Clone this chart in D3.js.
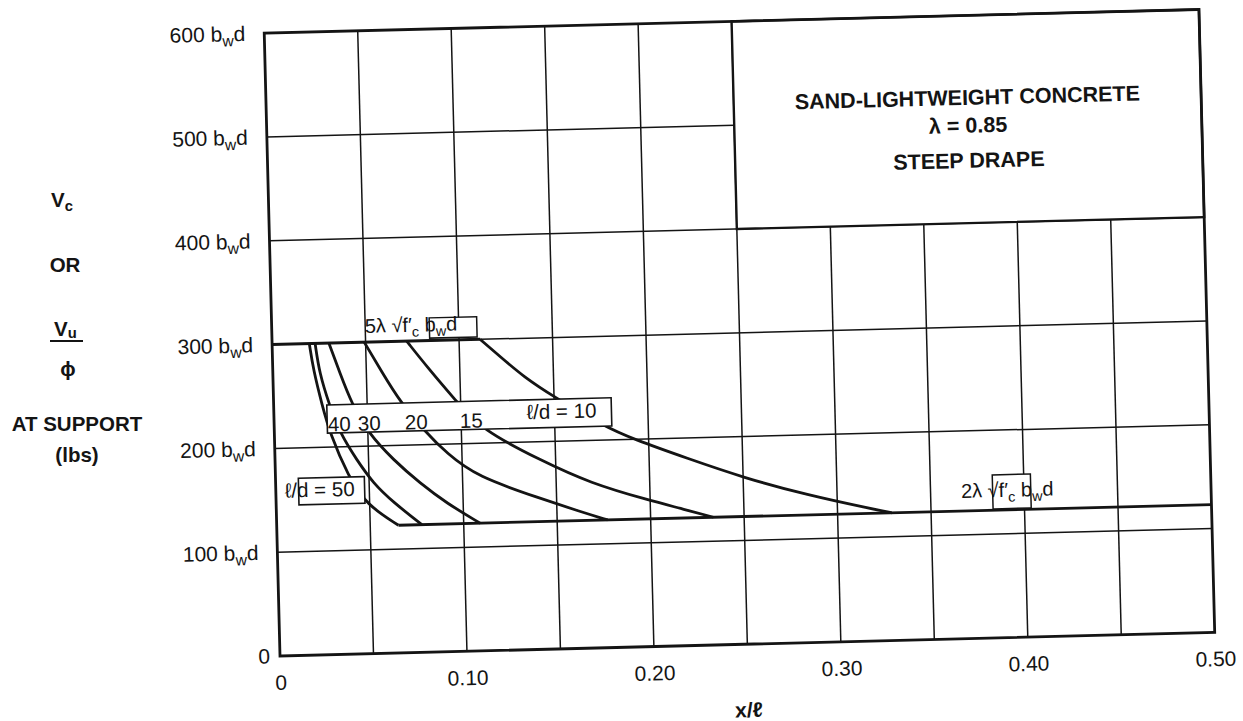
<!DOCTYPE html>
<html>
<head>
<meta charset="utf-8">
<script src="https://cdn.jsdelivr.net/npm/d3@7"></script>
<style>
  html, body { margin: 0; padding: 0; background: #fff; }
  svg { display: block; font-family: "Liberation Sans", Arial, Helvetica, sans-serif; }
</style>
</head>
<body>
<svg id="chart" width="1243" height="721"></svg>
<script>
// ---- axis ticks -------------------------------------------------------------
const xTickLabels = [0, 0.10, 0.20, 0.30, 0.40, 0.50];
const xGrid = [0.05, 0.10, 0.15, 0.20, 0.25, 0.30, 0.35, 0.40, 0.45];
const yTickLabels = [0, 100, 200, 300, 400, 500, 600];
const yGrid = [100, 200, 300, 400, 500];

// ---- shear limits (multiples of b_w d) ---------------------------------------
const upperLimit = 300;   // 5λ√f'c b_w d
const lowerLimit = 123;   // 2λ√f'c b_w d
const upperLimitEnd = 0.1113;   // where the ℓ/d = 10 curve leaves the upper limit
const lowerLimitStart = 0.0651; // where the ℓ/d = 50 curve reaches the lower limit

// ---- Vc curves, [x/ℓ, Vc / b_w d], one per span-to-depth ratio --------------
const spanDepth = [50, 40, 30, 20, 15, 10];
const curveLd50 = [[0.0199, 300], [0.0217, 274.7], [0.0259, 240.7], [0.0297, 213.2],
                   [0.0390, 171.0], [0.0484, 143.3], [0.0651, 123]];
const curveLd40 = [[0.0230, 300], [0.0249, 271.3], [0.0298, 240.5], [0.0351, 213.0],
                   [0.0437, 186.9], [0.0522, 164.0], [0.0627, 145.2], [0.0776, 123]];
const curveLd30 = [[0.0304, 300], [0.0359, 270.8], [0.0417, 241.6], [0.0502, 212.3],
                   [0.0633, 186.0], [0.0772, 162.9], [0.0912, 143.0], [0.1088, 123]];
const curveLd20 = [[0.0493, 300], [0.0582, 271.4], [0.0676, 242.0], [0.0806, 212.5],
                   [0.0919, 191.1], [0.1076, 167.9], [0.1412, 145.5], [0.1624, 131.7],
                   [0.1770, 123]];
const curveLd15 = [[0.0720, 300], [0.0824, 275.1], [0.0971, 242.3], [0.1109, 212.8],
                   [0.1417, 182.4], [0.1681, 158.8], [0.2000, 140.6], [0.2159, 132.5],
                   [0.2336, 123]];
const curveLd10 = [[0.1113, 300], [0.1217, 283.0], [0.1339, 263.1], [0.1497, 243.1],
                   [0.1760, 213.6], [0.1919, 200.1], [0.2202, 180.5], [0.2502, 160.4],
                   [0.2838, 142.2], [0.3193, 126.8], [0.3290, 123]];
const curves = [curveLd50, curveLd40, curveLd30, curveLd20, curveLd15, curveLd10];

// ---- drawing ---------------------------------------------------------------
const ink = "#141414";
const svg = d3.select("#chart");
const plotW = 935, plotH = 623;
const x = d3.scaleLinear().domain([0, 0.5]).range([0, plotW]);
const y = d3.scaleLinear().domain([0, 600]).range([plotH, 0]);

// the printed sheet sits slightly tilted
const g = svg.append("g")
  .attr("transform", `translate(280,33) rotate(-1.45,0,${plotH})`);

// grid
g.append("g").selectAll("line").data(xGrid).join("line")
  .attr("x1", d => x(d)).attr("x2", d => x(d))
  .attr("y1", 0).attr("y2", plotH)
  .attr("stroke", ink).attr("stroke-width", 1.5);
g.append("g").selectAll("line").data(yGrid).join("line")
  .attr("x1", 0).attr("x2", plotW)
  .attr("y1", d => y(d)).attr("y2", d => y(d))
  .attr("stroke", ink).attr("stroke-width", 1.5);

// title panel in the upper right
g.append("rect")
  .attr("x", x(0.25)).attr("y", y(600))
  .attr("width", x(0.5) - x(0.25)).attr("height", y(400) - y(600))
  .attr("fill", "#fff").attr("stroke", ink).attr("stroke-width", 2.4);

const titleLines = ["SAND-LIGHTWEIGHT CONCRETE", "λ = 0.85", "STEEP DRAPE"];
const titleAt = [513.9, 487, 453.2];
g.append("g").selectAll("text").data(titleLines).join("text")
  .attr("x", x(0.375)).attr("y", (d, i) => y(titleAt[i]))
  .attr("text-anchor", "middle")
  .attr("font-size", 21.5).attr("font-weight", "bold").attr("fill", ink)
  .text(d => d);

// limits and curves
const straight = d3.line().x(d => x(d[0])).y(d => y(d[1]));
const smooth = d3.line().x(d => x(d[0])).y(d => y(d[1])).curve(d3.curveBasis);

g.append("path")
  .attr("d", straight([[0, upperLimit], [upperLimitEnd, upperLimit]]))
  .attr("fill", "none").attr("stroke", ink).attr("stroke-width", 3);
g.append("path")
  .attr("d", straight([[lowerLimitStart, lowerLimit], [0.5, lowerLimit]]))
  .attr("fill", "none").attr("stroke", ink).attr("stroke-width", 2.8);

g.append("g").selectAll("path").data(curves).join("path")
  .attr("d", d => smooth(d))
  .attr("fill", "none").attr("stroke", ink).attr("stroke-width", 2.8)
  .attr("stroke-linejoin", "round");

// helper: white label patch in data units
function patch(x0, x1, v0, v1, sw) {
  g.append("rect")
    .attr("x", x(x0)).attr("y", y(v1))
    .attr("width", x(x1) - x(x0)).attr("height", y(v0) - y(v1))
    .attr("fill", "#fff").attr("stroke", ink).attr("stroke-width", sw);
}
function label(xv, v, size) {
  return g.append("text").attr("x", x(xv)).attr("y", y(v))
    .attr("font-size", size).attr("fill", ink);
}

// ℓ/d labels
patch(0.0284, 0.1805, 213.4, 240.6, 1.6);
const ldNums = [[spanDepth[1], 0.0287], [spanDepth[2], 0.0448], [spanDepth[3], 0.0699], [spanDepth[4], 0.0993]];
ldNums.forEach(([n, xv]) => label(xv, 215, 20.5).text(n));
label(0.1351, 221.9, 20.5).text(`ℓ/d = ${spanDepth[5]}`);

patch(0.0122, 0.0475, 145.0, 170.7, 1.6);
label(0.0048, 152.3, 20.5).text(`ℓ/d = ${spanDepth[0]}`);

// limit labels
patch(0.0843, 0.1097, 302.4, 321.9, 1.5);
{
  const t = label(0.0498, 309, 20);
  t.append("tspan").text("5λ √f′");
  t.append("tspan").attr("font-size", "0.72em").attr("dy", 5).text("c");
  t.append("tspan").attr("dy", -5).text(" b");
  t.append("tspan").attr("font-size", "0.72em").attr("dy", 5).text("w");
  t.append("tspan").attr("dy", -5).text("d");
}
patch(0.3832, 0.4036, 124.2, 157, 1.5);
{
  const t = label(0.3663, 135.6, 20);
  t.append("tspan").text("2λ √f′");
  t.append("tspan").attr("font-size", "0.72em").attr("dy", 5).text("c");
  t.append("tspan").attr("dy", -5).text("  b");
  t.append("tspan").attr("font-size", "0.72em").attr("dy", 5).text("w");
  t.append("tspan").attr("dy", -5).text("d");
}

// frame
g.append("rect").attr("x", 0).attr("y", 0)
  .attr("width", plotW).attr("height", plotH)
  .attr("fill", "none").attr("stroke", ink).attr("stroke-width", 2.8);

// axes
const gx = g.append("g").attr("transform", `translate(0,${plotH})`)
  .call(d3.axisBottom(x).tickValues(xTickLabels).tickSize(0).tickPadding(19)
    .tickFormat(d => d === 0 ? "0" : d.toFixed(2)));
gx.select(".domain").remove();
gx.selectAll("text").attr("font-size", 21).attr("fill", ink)
  .attr("font-family", "Liberation Sans, Arial, sans-serif");

const gy = g.append("g")
  .call(d3.axisLeft(y).tickValues(yTickLabels).tickSize(0).tickPadding(19));
gy.select(".domain").remove();
gy.selectAll("text").attr("font-size", 21).attr("fill", ink)
  .attr("font-family", "Liberation Sans, Arial, sans-serif")
  .each(function (d) {
    const t = d3.select(this);
    if (d === 0) { t.attr("x", -10); return; }
    t.text(null);
    t.append("tspan").text(`${d} b`);
    t.append("tspan").attr("font-size", "0.75em").attr("dy", 5).text("w");
    t.append("tspan").attr("dy", -5).text("d");
  });

g.append("text")
  .attr("x", x(0.25)).attr("y", plotH + 73)
  .attr("text-anchor", "middle").attr("font-size", 21).attr("font-weight", "bold")
  .attr("fill", ink).text("x/ℓ");

// vertical axis caption
const cap = svg.append("g").attr("font-size", 20.5).attr("font-weight", "bold").attr("fill", ink);
{
  const t = cap.append("text").attr("x", 51).attr("y", 207);
  t.append("tspan").text("V");
  t.append("tspan").attr("font-size", "0.72em").attr("dy", 4).text("c");
}
cap.append("text").attr("x", 65).attr("y", 272).attr("text-anchor", "middle").text("OR");
{
  const t = cap.append("text").attr("x", 54).attr("y", 336);
  t.append("tspan").text("V");
  t.append("tspan").attr("font-size", "0.72em").attr("dy", 2).text("u");
}
cap.append("line").attr("x1", 50).attr("x2", 83).attr("y1", 341).attr("y2", 341)
  .attr("stroke", ink).attr("stroke-width", 2);
cap.append("text").attr("x", 68).attr("y", 376).attr("text-anchor", "middle").text("ϕ");
cap.append("text").attr("x", 77).attr("y", 431).attr("text-anchor", "middle").text("AT SUPPORT");
cap.append("text").attr("x", 77).attr("y", 462).attr("text-anchor", "middle").text("(lbs)");
</script>
</body>
</html>
